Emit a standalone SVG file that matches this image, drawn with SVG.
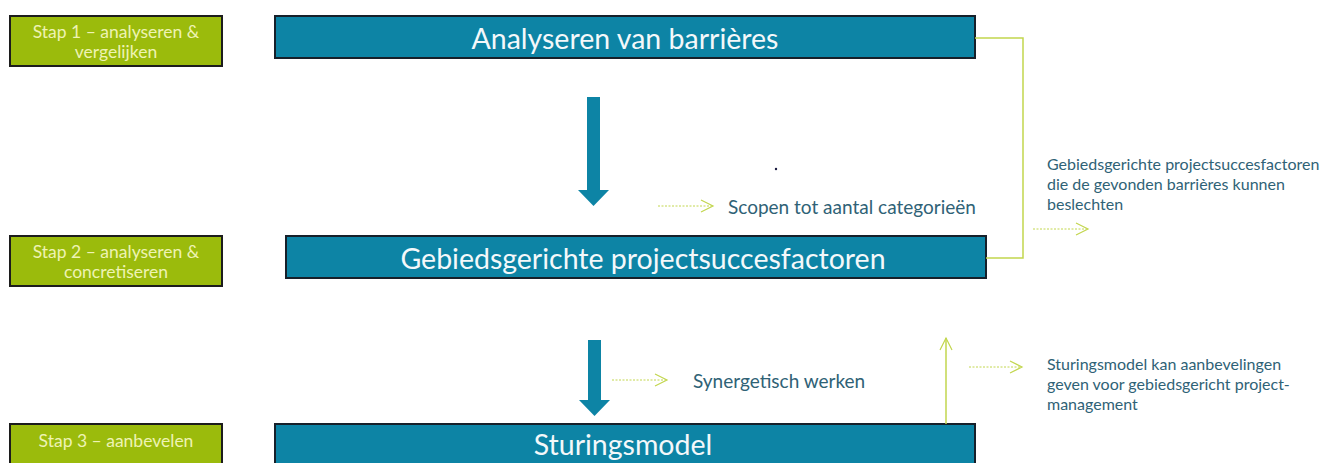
<svg xmlns="http://www.w3.org/2000/svg" width="1328" height="463" viewBox="0 0 1328 463">
  <defs>
    <style>
      .step { fill: #9bbb0c; stroke: #1c1c1c; stroke-width: 2; }
      .stepText { fill: #eef3b4; font-family: Lato, "Open Sans", sans-serif; font-size: 17.5px; text-anchor: middle; }
      .phase { fill: #0d84a5; stroke: #16202a; stroke-width: 2; }
      .phaseText { fill: #f4f8fa; font-family: Lato, "Open Sans", sans-serif; font-size: 28.5px; text-anchor: middle; dominant-baseline: central; }
      .note { fill: #2f6276; font-family: Lato, "Open Sans", sans-serif; font-size: 16px; }
      .noteBig { fill: #2f6276; font-family: Lato, "Open Sans", sans-serif; font-size: 19px; dominant-baseline: central; }
      .flow { fill: #0d84a5; }
      .link { fill: none; stroke: #c2d64e; stroke-width: 1.5; }
      .dash { fill: none; stroke: #c2d64e; stroke-width: 1; stroke-dasharray: 2 1.5; }
      .head { fill: none; stroke: #c2d64e; stroke-width: 1.2; }
    </style>
  </defs>

  <rect width="1328" height="463" fill="#ffffff"/>

  <!-- step labels -->
  <g id="step1">
    <rect class="step" x="10" y="16" width="212" height="50"/>
    <text class="stepText" x="116" y="38">Stap 1 – analyseren &amp;</text>
    <text class="stepText" x="116" y="58">vergelijken</text>
  </g>
  <g id="step2">
    <rect class="step" x="10" y="236" width="212" height="50"/>
    <text class="stepText" x="116" y="258">Stap 2 – analyseren &amp;</text>
    <text class="stepText" x="116" y="278">concretiseren</text>
  </g>
  <g id="step3">
    <rect class="step" x="10" y="424" width="212" height="50"/>
    <text class="stepText" x="116" y="447">Stap 3 – aanbevelen</text>
  </g>

  <!-- phase boxes -->
  <g id="barrieres">
    <rect class="phase" x="275" y="16" width="700" height="42"/>
    <text class="phaseText" x="625" y="38">Analyseren van barrières</text>
  </g>
  <g id="succesfactoren">
    <rect class="phase" x="286" y="236" width="700" height="42"/>
    <text class="phaseText" x="643" y="258">Gebiedsgerichte projectsuccesfactoren</text>
  </g>
  <g id="sturingsmodel">
    <rect class="phase" x="275" y="424" width="700" height="50"/>
    <text class="phaseText" x="623" y="444">Sturingsmodel</text>
  </g>

  <!-- side notes -->
  <g id="note-scopen">
    <text class="noteBig" x="728" y="206">Scopen tot aantal categorieën</text>
  </g>
  <g id="note-synergie">
    <text class="noteBig" x="693" y="380">Synergetisch werken</text>
  </g>
  <g id="note-factoren">
    <text class="note" x="1047" y="170">Gebiedsgerichte projectsuccesfactoren</text>
    <text class="note" x="1047" y="190">die de gevonden barrières kunnen</text>
    <text class="note" x="1047" y="210">beslechten</text>
  </g>
  <g id="note-aanbevelingen">
    <text class="note" x="1047" y="370">Sturingsmodel kan aanbevelingen</text>
    <text class="note" x="1047" y="390">geven voor gebiedsgericht project-</text>
    <text class="note" x="1047" y="410">management</text>
  </g>

  <!-- connectors -->
  <g id="connectors">
    <!-- block arrows between phases -->
    <path class="flow" d="M587,97 H600 V190 H609 L593.5,206 L578,190 H587 Z"/>
    <path class="flow" d="M588,340 H601 V400 H610 L594.5,416 L579,400 H588 Z"/>

    <!-- bracket from barriers to success factors -->
    <path class="link" d="M975,38 H1023 V258 H986"/>

    <!-- upward line from the steering model -->
    <path class="link" d="M946,424 V338"/>
    <path class="head" d="M940,350 L946,338 L952,350"/>

    <!-- dotted pointers -->
    <path class="dash" d="M658,206 H712"/>
    <path class="head" d="M701,200 L713,206 L701,212"/>
    <path class="dash" d="M612,380 H666"/>
    <path class="head" d="M655,374 L667,380 L655,386"/>
    <path class="dash" d="M1033,229 H1087"/>
    <path class="head" d="M1076,223 L1088,229 L1076,235"/>
    <path class="dash" d="M969,367 H1021"/>
    <path class="head" d="M1010,361 L1022,367 L1010,373"/>
  </g>

  <!-- stray mark -->
  <circle cx="776" cy="169" r="1.2" fill="#1a1a40"/>
</svg>
